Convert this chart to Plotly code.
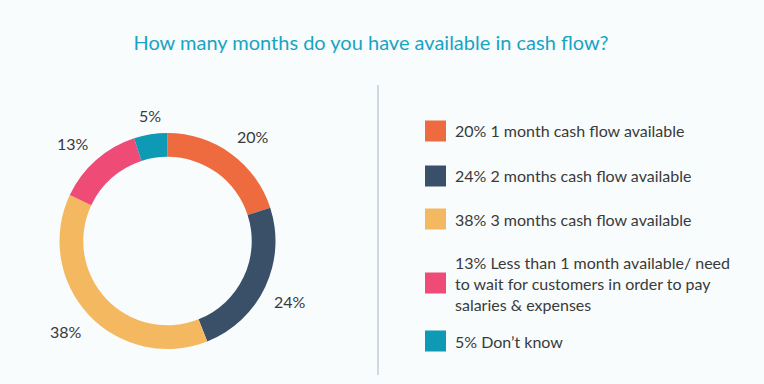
import math
import plotly.graph_objects as go

W, H = 764, 384

categories = [
    "1 month cash flow available",
    "2 months cash flow available",
    "3 months cash flow available",
    "Less than 1 month available/ need<br>to wait for customers in order to pay<br>salaries & expenses",
    "Don’t know",
]
values = [20, 24, 38, 13, 5]
colors = ["#EE6A3F", "#3A5068", "#F4B860", "#EE4B77", "#0E9AB5"]
legend_y_px = [131, 176, 219, 283, 341]

TEXT = "#3A3A3A"
FONT = "Lato, 'Open Sans', sans-serif"
BG = "#F8FCFD"

def px(x):
    return x / W

def py(y):
    return 1 - y / H

cx, cy, r = 167.5, 241, 108
r_label = 115

labels = [c.replace("<br>", " ") for c in categories]

fig = go.Figure()
fig.add_trace(go.Pie(
    labels=labels,
    values=values,
    sort=False,
    direction="clockwise",
    rotation=0,
    hole=0.78,
    marker=dict(colors=colors, line=dict(width=0)),
    textinfo="none",
    showlegend=False,
    hoverinfo="label+percent",
    domain=dict(x=[px(cx - r), px(cx + r)], y=[py(cy + r), py(cy - r)]),
))

annotations = []
# outside value labels, placed at each slice's mid angle
total = sum(values)
cum = 0
for v in values:
    mid = (cum + v / 2) / total * 2 * math.pi
    cum += v
    ux, uy = math.sin(mid), math.cos(mid)
    xa = "center" if abs(ux) < 0.3 else ("left" if ux > 0 else "right")
    ya = "middle" if abs(uy) < 0.3 else ("bottom" if uy > 0 else "top")
    annotations.append(dict(xref="paper", yref="paper",
                            x=px(cx + r_label * ux), y=py(cy - r_label * uy),
                            xanchor=xa, yanchor=ya, showarrow=False,
                            text=f"{v}%", font=dict(size=16, color=TEXT, family=FONT)))

shapes = [dict(type="line", xref="paper", yref="paper",
               x0=px(378), x1=px(378), y0=py(85), y1=py(375),
               line=dict(color="#CFD8E3", width=2))]
for cat, v, col, yy in zip(categories, values, colors, legend_y_px):
    shapes.append(dict(type="rect", xref="paper", yref="paper",
                       x0=px(425), x1=px(446), y0=py(yy + 10.5), y1=py(yy - 10.5),
                       fillcolor=col, line=dict(width=0)))
    annotations.append(dict(xref="paper", yref="paper", x=px(453), y=py(yy),
                            xanchor="left", yanchor="middle", align="left",
                            showarrow=False, text=f"{v}% {cat}",
                            font=dict(size=16, color=TEXT, family=FONT)))

fig.update_layout(
    width=W, height=H,
    margin=dict(l=0, r=0, t=0, b=0),
    paper_bgcolor=BG,
    plot_bgcolor=BG,
    title=dict(text="How many months do you have available in cash flow?",
               x=px(371), xanchor="center", y=py(43), yanchor="middle",
               font=dict(size=20, color="#18A3C4", family=FONT)),
    shapes=shapes,
    annotations=annotations,
)

fig.write_html("out.html", config={"displayModeBar": False},
               post_script=f"document.body.style.margin='0';document.body.style.background='{BG}';")
